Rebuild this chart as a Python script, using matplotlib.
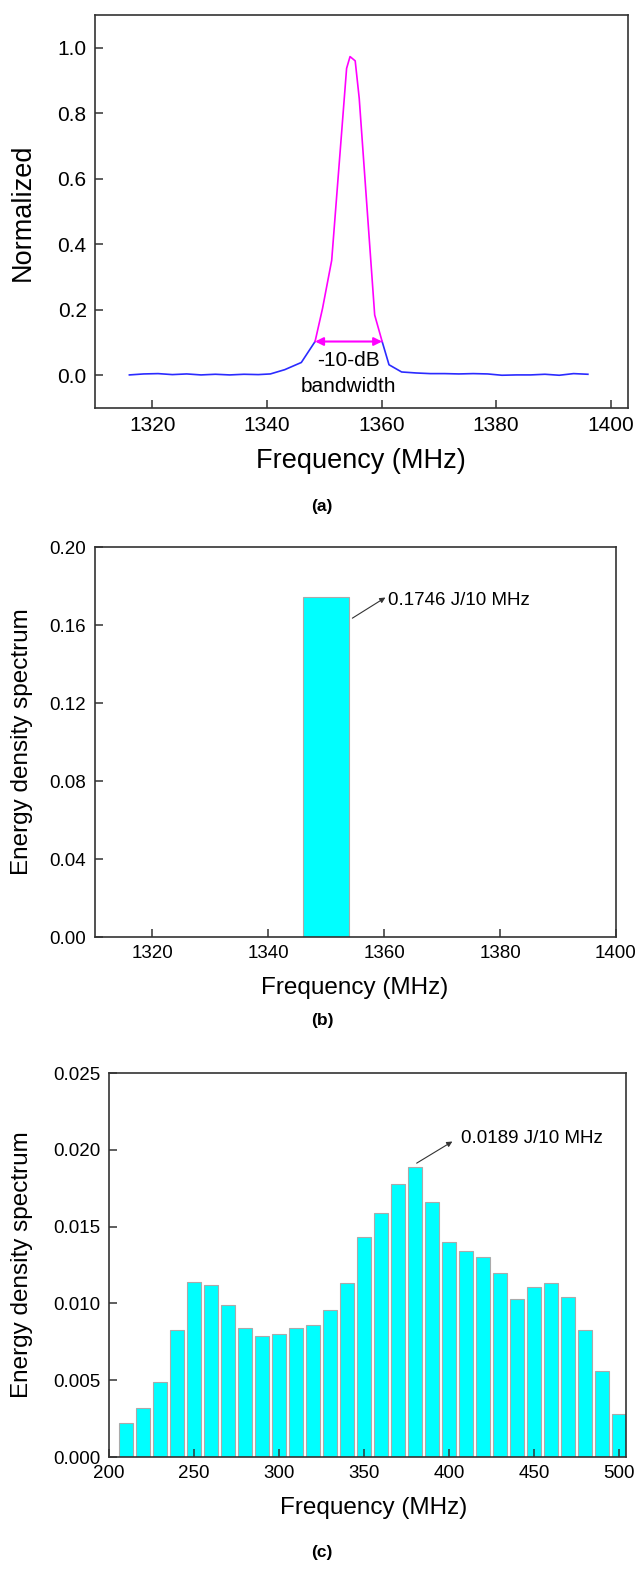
import numpy as np
import matplotlib
matplotlib.use("Agg")
import matplotlib.pyplot as plt
from matplotlib.ticker import FormatStrFormatter

plt.rcParams['font.family'] = ['Liberation Sans', 'DejaVu Sans']

# (a) normalized spectrum, blue outside the -10 dB band, magenta inside
freq_low = [1316.0, 1318.5, 1321.0, 1323.5, 1326.0, 1328.5, 1331.0, 1333.5,
            1336.0, 1338.5, 1340.6, 1343.1, 1346.0, 1348.4]
norm_low = [0.001, 0.004, 0.005, 0.002, 0.004, 0.001, 0.003, 0.001,
            0.003, 0.002, 0.004, 0.017, 0.039, 0.103]
freq_band = [1348.4, 1349.7, 1351.3, 1353.9, 1354.5, 1355.4, 1356.1, 1358.8, 1360.1]
norm_band = [0.103, 0.204, 0.351, 0.937, 0.973, 0.960, 0.846, 0.184, 0.103]
freq_high = [1360.1, 1361.3, 1363.5, 1366.0, 1368.5, 1371.0, 1373.5, 1376.0,
             1378.5, 1381.0, 1383.5, 1386.0, 1388.5, 1391.0, 1393.5, 1396.0]
norm_high = [0.103, 0.032, 0.010, 0.007, 0.005, 0.005, 0.004, 0.005,
             0.004, 0.000, 0.001, 0.001, 0.003, 0.000, 0.005, 0.003]

# (b) single 10 MHz bin
bin_b = [1350]
eds_b = [0.1746]

# (c) 10 MHz bins from 210 to 500 MHz
bin_c = list(range(210, 510, 10))
eds_c = [0.0022, 0.0032, 0.0049, 0.0083, 0.0114, 0.0112, 0.0099, 0.0084,
         0.0079, 0.0080, 0.0084, 0.0086, 0.0096, 0.0113, 0.0143, 0.0159,
         0.0178, 0.0189, 0.0166, 0.0140, 0.0134, 0.0130, 0.0120, 0.0103,
         0.0111, 0.0113, 0.0104, 0.0083, 0.0056, 0.0028]

W, H = 639, 1572
fig = plt.figure(figsize=(W / 100, H / 100), dpi=100)


def box(left, right, top, bottom):
    return [left / W, 1 - bottom / H, (right - left) / W, (bottom - top) / H]


def ftext(x, y, s, **kw):
    fig.text(x / W, 1 - y / H, s, ha='center', va='center', **kw)


def style(ax, size):
    for sp in ax.spines.values():
        sp.set_linewidth(1.2)
        sp.set_color('#333333')
    ax.tick_params(direction='in', length=6, width=1.1, color='#333333',
                   labelsize=size, pad=6, top=False, right=False)


def pointer(ax, start, tip, label, pos, size):
    ax.annotate('', xy=tip, xytext=start,
                arrowprops=dict(arrowstyle='-|>', color='#333333', lw=0.8,
                                mutation_scale=8, shrinkA=0, shrinkB=0))
    ax.text(pos[0], pos[1], label, fontsize=size, va='center', ha='left')


# ---- (a)
ax1 = fig.add_axes(box(95, 628, 15, 408))
ax1.plot(freq_low, norm_low, color='#2b2bff', lw=1.2)
ax1.plot(freq_high, norm_high, color='#2b2bff', lw=1.2)
ax1.plot(freq_band, norm_band, color='#ff00ff', lw=1.2)
ax1.annotate('', xy=(freq_band[0], norm_band[0]), xytext=(freq_band[-1], norm_band[-1]),
             arrowprops=dict(arrowstyle='<|-|>', color='#ff00ff', lw=1.5, mutation_scale=12,
                             shrinkA=0, shrinkB=0))
ax1.text(1354.3, 0.044, '-10-dB', ha='center', va='center', fontsize=15)
ax1.text(1354.3, -0.034, 'bandwidth', ha='center', va='center', fontsize=15)
ax1.set_xlim(1310, 1403)
ax1.set_ylim(-0.1, 1.1)
ax1.set_xticks([1320, 1340, 1360, 1380, 1400])
ax1.set_yticks([0.0, 0.2, 0.4, 0.6, 0.8, 1.0])
ax1.yaxis.set_major_formatter(FormatStrFormatter('%.1f'))
style(ax1, 15)
ftext(23, 212, 'Normalized', fontsize=19.5, rotation=90)
ftext(361, 461, 'Frequency (MHz)', fontsize=19.5)
ftext(322, 507, '(a)', fontsize=12.5, fontweight='bold')

# ---- (b)
ax2 = fig.add_axes(box(94.5, 616, 547, 937))
ax2.bar(bin_b, eds_b, width=8, color='#00ffff', edgecolor='#aaaaaa', linewidth=0.8)
pointer(ax2, (1354.5, 0.1635), (1360.2, 0.1741), '0.1746 J/10 MHz', (1360.6, 0.1724), 13.5)
ax2.set_xlim(1310, 1400)
ax2.set_ylim(0, 0.20)
ax2.set_xticks([1320, 1340, 1360, 1380, 1400])
ax2.set_yticks([0.00, 0.04, 0.08, 0.12, 0.16, 0.20])
ax2.yaxis.set_major_formatter(FormatStrFormatter('%.2f'))
style(ax2, 13.5)
ftext(22, 742, 'Energy density spectrum', fontsize=17.5, rotation=90)
ftext(355, 988, 'Frequency (MHz)', fontsize=17.5)
ftext(322, 1021, '(b)', fontsize=12.5, fontweight='bold')

# ---- (c)
ax3 = fig.add_axes(box(109, 626, 1073, 1457))
ax3.bar(bin_c, eds_c, width=8, color='#00ffff', edgecolor='#aaaaaa', linewidth=0.8)
pointer(ax3, (380.9, 0.01913), (401.9, 0.02054), '0.0189 J/10 MHz', (406.7, 0.02072), 13.5)
ax3.set_xlim(200, 504)
ax3.set_ylim(0, 0.025)
ax3.set_xticks([200, 250, 300, 350, 400, 450, 500])
ax3.set_yticks([0.000, 0.005, 0.010, 0.015, 0.020, 0.025])
ax3.yaxis.set_major_formatter(FormatStrFormatter('%.3f'))
style(ax3, 13.5)
ftext(22, 1265, 'Energy density spectrum', fontsize=17.5, rotation=90)
ftext(374, 1508, 'Frequency (MHz)', fontsize=17.5)
ftext(322, 1552, '(c)', fontsize=12.5, fontweight='bold')

plt.savefig('out.png', dpi=100)
plt.close()
